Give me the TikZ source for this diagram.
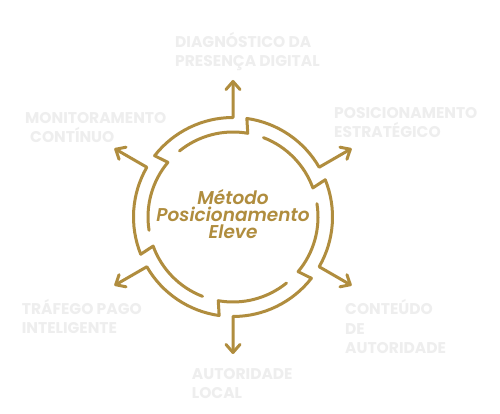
\documentclass[tikz,border=0pt]{standalone}
\usepackage{fontspec}
\setmainfont{Poppins}
\newfontfamily\cfont{Poppins}[BoldFont={* SemiBold},BoldItalicFont={* SemiBold Italic}]
\usetikzlibrary{arrows.meta}
\definecolor{gold}{RGB}{176,141,62}
\definecolor{lbl}{RGB}{238,238,238}
\begin{document}
\begin{tikzpicture}[x=1pt,y=1pt,
  ring/.style={draw=gold,line width=3pt,line cap=round,line join=round},
  outarrow/.style={ring,-{Straight Barb[length=8pt,width=14pt,round]}},
  lab/.style={text=lbl,font=\fontsize{15.5}{19.5}\selectfont\bfseries,align=left,anchor=base west,inner sep=0pt}]
\fill[white] (0,0) rectangle (500,414);
\useasboundingbox (0,0) rectangle (500,414);
\coordinate (c) at (233,197);
\foreach \s [count=\i] in {81,21,-39,-99,-159,141} {
  \coordinate (a\i) at ([shift={(\s+48:85)}]c);
  \coordinate (t\i) at ([shift={(\s-51:137)}]c);
  \draw[outarrow] (a\i) arc[start angle=\s+48, end angle=\s-1, radius=85]
     -- ([shift={(\s+1:99.5)}]c) arc[start angle=\s+1, end angle=\s-51, radius=99.5] -- (t\i);
}
\node[text=gold,font=\cfont\fontsize{18.5}{17}\selectfont\bfseries\itshape,align=center] (title) at (233,200) {Método\\Posicionamento\\Eleve};
\node[lab] (l1) at (175,347) {DIAGNÓSTICO DA\\PRESENÇA DIGITAL};
\node[lab] (l2) at (334,276) {POSICIONAMENTO\\ESTRATÉGICO};
\node[lab] (l3) at (25,271) {MONITORAMENTO\\\hspace*{5pt}CONTÍNUO};
\node[lab] (l4) at (21.7,80) {TRÁFEGO PAGO\\INTELIGENTE};
\node[lab] (l5) at (345,60) {CONTEÚDO\\DE\\AUTORIDADE};
\node[lab] (l6) at (191.7,15) {AUTORIDADE\\LOCAL};
\end{tikzpicture}
\end{document}
